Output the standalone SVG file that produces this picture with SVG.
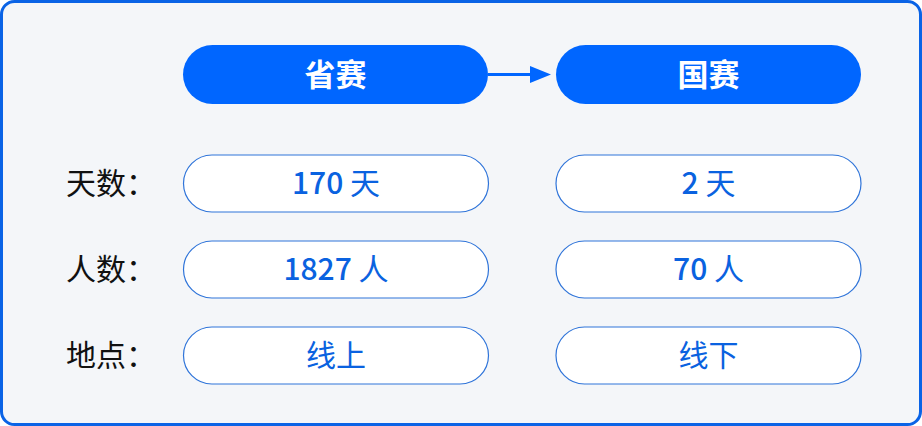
<svg xmlns="http://www.w3.org/2000/svg" width="922" height="426" viewBox="0 0 922 426">
<defs>
<style>
.hdr{fill:#0066FF}
.hdrt{fill:#ffffff;font-family:"Noto Sans CJK SC","Noto Sans",sans-serif;font-size:31px;font-weight:bold;text-anchor:middle;dominant-baseline:central}
.cell{fill:#ffffff;stroke:#2F74D9;stroke-width:1.2}
.cellt{fill:#0A62E0;font-family:"Noto Sans CJK SC","Noto Sans",sans-serif;font-size:30px;font-weight:400;text-anchor:middle;dominant-baseline:central}
.num{font-weight:500}
.lbl{fill:#111111;font-family:"Noto Sans CJK SC","Noto Sans",sans-serif;font-size:30px;text-anchor:start;dominant-baseline:central}
</style>
</defs>
<rect x="1.5" y="1.5" width="919" height="423" rx="13" ry="13" fill="#F4F6F9" stroke="#0A63E6" stroke-width="3"/>
<g id="connectors">
<line x1="488" y1="74.5" x2="532" y2="74.5" stroke="#0066FF" stroke-width="3"/>
<path d="M530,66 L551,74.5 L530,83 z" fill="#0066FF"/>
</g>
<g id="node-shengsai">
<rect class="hdr" x="183" y="45" width="305" height="59" rx="29.5"/>
<text class="hdrt" x="335.5" y="72">省赛</text>
</g>
<g id="node-guosai">
<rect class="hdr" x="556" y="45" width="305" height="59" rx="29.5"/>
<text class="hdrt" x="708.5" y="72">国赛</text>
</g>
<g id="label-days"><text class="lbl" x="66" y="180.5">天数：</text></g>
<g id="label-people"><text class="lbl" x="66" y="266.5">人数：</text></g>
<g id="label-place"><text class="lbl" x="66" y="352.5">地点：</text></g>
<g id="cell-s-days">
<rect class="cell" x="183.5" y="155" width="305" height="57" rx="28.5"/>
<text class="cellt" x="336" y="181"><tspan class="num">170</tspan> 天</text>
</g>
<g id="cell-g-days">
<rect class="cell" x="556" y="155" width="305" height="57" rx="28.5"/>
<text class="cellt" x="708.5" y="181"><tspan class="num">2</tspan> 天</text>
</g>
<g id="cell-s-people">
<rect class="cell" x="183.5" y="241" width="305" height="57" rx="28.5"/>
<text class="cellt" x="336" y="267"><tspan class="num">1827</tspan> 人</text>
</g>
<g id="cell-g-people">
<rect class="cell" x="556" y="241" width="305" height="57" rx="28.5"/>
<text class="cellt" x="708.5" y="267"><tspan class="num">70</tspan> 人</text>
</g>
<g id="cell-s-place">
<rect class="cell" x="183.5" y="327" width="305" height="57" rx="28.5"/>
<text class="cellt" x="336" y="353">线上</text>
</g>
<g id="cell-g-place">
<rect class="cell" x="556" y="327" width="305" height="57" rx="28.5"/>
<text class="cellt" x="708.5" y="353">线下</text>
</g>
</svg>
